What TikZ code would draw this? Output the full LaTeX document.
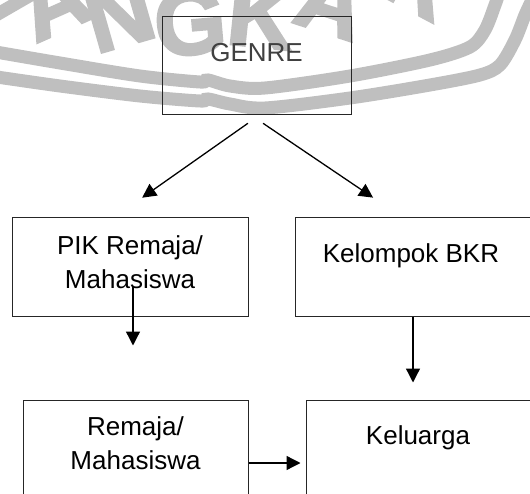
\documentclass[tikz,border=0pt]{standalone}
\usepackage{fontspec}
\setmainfont{Liberation Sans}
\newfontfamily\tebal[FakeBold=3]{Liberation Sans Bold}
\usetikzlibrary{arrows.meta}

\tikzset{
	kotak/.style={draw=black!85, line width=1pt, rectangle, inner sep=0pt},
	tulisan/.style={font=\fontsize{26}{34}\selectfont, align=center, inner sep=0pt},
	panah/.style={-{Triangle[length=14pt,width=14pt]}, line width=1.3pt},
	wmark/.style={text=black!25, font=\fontsize{92}{92}\tebal, inner sep=0pt, anchor=south},
	pita/.style={draw=black!25, line width=13pt}
}

\begin{document}
\begin{tikzpicture}[x=1pt, y=-1pt]
				\useasboundingbox (0,0) rectangle (530,494);
				% watermark
				\draw[pita] plot[smooth] coordinates {(-10,51) (60,63) (140,76) (200,82) (208,80) (230,86) (265,88) (350,76) (430,60) (470,47) (485,30) (495,5) (500,-10)};
				\draw[pita] plot[smooth] coordinates {(-10,76) (60,86) (140,96) (200,101) (208,99) (230,104) (265,108) (350,98) (430,85) (480,75) (500,65) (515,40) (525,15) (532,0)};
				\foreach \huruf/\hx/\hy/\rot in {L/12/12/30, A/66/30/24, N/128/45/16, G/193/55/5, K/258/47/-6, A/322/32/-18, R/405/8/-28}
					\node[wmark, rotate=\rot] at (\hx,\hy) {\huruf};
				% kotak
				\node[kotak, minimum width=189pt, minimum height=98pt, label={[tulisan, text=black!75, yshift=13.3pt]center:GENRE}] (genre) at (256.5, 66) {};
				\node[kotak, minimum width=236pt, minimum height=98pt, label={[tulisan, yshift=5pt]center:PIK Remaja/\\Mahasiswa}] (pik) at (130, 267) {};
				\node[kotak, minimum width=265pt, minimum height=98pt, label={[tulisan, xshift=-16.5pt, yshift=11.7pt]center:Kelompok BKR}] (bkr) at (427.5, 267) {};
				\node[kotak, minimum width=225pt, minimum height=130pt, label={[tulisan, yshift=22pt]center:Remaja/\\Mahasiswa}] (remaja) at (135.5, 465) {};
				\node[kotak, minimum width=254pt, minimum height=130pt, label={[tulisan, xshift=-15pt, yshift=27pt]center:Keluarga}] (keluarga) at (433, 465) {};
				% panah
				\draw[panah, shorten <=13.6pt, shorten >=34.4pt] ([xshift=2.5pt]genre.south) -- ([xshift=-16pt]pik.north);
				\draw[panah, shorten <=14pt, shorten >=35.5pt] ([xshift=-5pt]genre.south) -- ([xshift=-25pt]bkr.north);
				\draw[panah, shorten >=54pt] ([xshift=3pt, yshift=30pt]pik.south) -- ([xshift=-2.5pt]remaja.north);
				\draw[panah, shorten >=17pt] ([xshift=-14.5pt]bkr.south) -- ([xshift=-20pt]keluarga.north);
				\draw[panah, shorten >=5pt] ([yshift=2pt]remaja.east) -- ([yshift=2pt]keluarga.west);
			\end{tikzpicture}
\end{document}
